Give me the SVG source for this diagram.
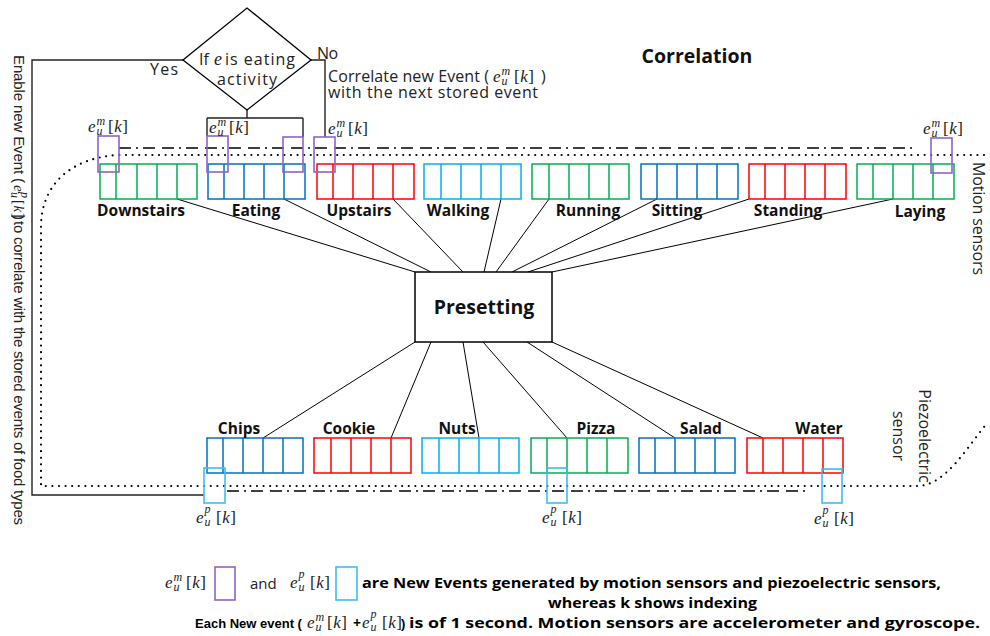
<svg xmlns="http://www.w3.org/2000/svg" width="990" height="636" viewBox="0 0 990 636">
<style>
.bx{fill:none;stroke-width:1.5}
.g{stroke:#00B050}.b{stroke:#0070C0}.r{stroke:#FF0000}.c{stroke:#00B0F0}
.pu{fill:none;stroke:#8E63C8;stroke-width:1.6}
.cy{fill:none;stroke:#3DBDF0;stroke-width:1.6}
.ln{fill:none;stroke:#000;stroke-width:1}
.ln2{fill:none;stroke:#222;stroke-width:1.4}
.dd{fill:none;stroke:#000;stroke-width:1.4;stroke-dasharray:12 5 2 5 12 7}
.dt{fill:none;stroke:#000;stroke-width:2.2;stroke-dasharray:0 6.6;stroke-linecap:round}
.lb{font-family:"Open Sans","Liberation Sans",sans-serif;font-weight:700;font-size:15.5px;fill:#111;text-anchor:middle}
.tx{font-family:"Open Sans","Liberation Sans",sans-serif;font-size:16px;fill:#222}
.vt{font-family:"Liberation Sans",sans-serif;font-size:15px;fill:#222}
.lg{font-family:"Open Sans","Liberation Sans",sans-serif;font-weight:700;font-size:14px;fill:#000}
.lgn{font-family:"Liberation Sans",sans-serif;font-weight:700;font-size:13px;fill:#000}
.mi{font-family:"Liberation Serif",serif;font-style:italic;font-size:17px;fill:#222;letter-spacing:0.5px}
.ms{font-size:12px}
.mu{font-style:normal}
</style>

<!-- sensor bands -->
<g id="bands">
<path class="dd" d="M119,148 H917"/>
<path class="dt" d="M984,155 H118 C70,158 42,185 41,225 V486 H917 C945,486 965,450 988,422"/>
<path class="dd" d="M227,491 H810"/>
</g>

<!-- connectors -->
<g id="connectors">
<path class="ln" d="M177,199 L415,272 M284,199 L431,272 M393,199 L463,272 M501,199 L484,272 M549,199 L496,272 M657,199 L512,272 M749,199 L528,272 M893,199 L552,272"/>
<path class="ln" d="M415,342 L263,438 M431,342 L391,438 M463,342 L479,438 M483,342 L567,438 M527,342 L675,438 M552,342 L763,438"/>
<path class="ln2" d="M183,60 H32 V495 H204"/>
<path class="ln2" d="M311,60 H325 V137"/>
<path class="ln2" d="M247,110 V118 M207,118 H303 M207,118 V136 M303,118 V137"/>
<text class="tx" x="150" y="75" textLength="28">Yes</text>
<text class="tx" x="317" y="59" textLength="21">No</text>
<text class="tx" x="328" y="82" textLength="161">Correlate new Event (</text>
<text class="mi" x="493" y="82">e<tspan class="ms" x="501.5" y="75">m</tspan><tspan class="ms" x="501.5" y="85">u</tspan><tspan class="mu" x="514" y="82">[</tspan>k<tspan class="mu">]</tspan></text>
<text class="tx" x="541" y="82">)</text>
<text class="tx" x="328" y="98" textLength="210">with the next stored event</text>
</g>

<!-- decision -->
<g id="decision">
<polygon points="247,8 311,60 247,110 183,60" fill="#fff" stroke="#000" stroke-width="1.3"/>
<text class="tx" x="199" y="65">If</text>
<text class="mi" x="214" y="65" style="font-size:18px">e</text>
<text class="tx" x="225" y="65" textLength="70">is eating</text>
<text class="tx" x="247" y="85" text-anchor="middle" textLength="60">activity</text>
</g>

<g id="title"><text class="lb" x="697" y="63" style="font-size:19.5px">Correlation</text></g>

<!-- motion sensor activities -->
<g id="downstairs"><rect class="bx g" x="100" y="164" width="97" height="35"/><path class="bx g" d="M116,164V199M137,164V199M157,164V199M177,164V199"/><text class="lb" x="141" y="216">Downstairs</text></g>
<g id="eating"><rect class="bx b" x="208" y="164" width="97" height="35"/><path class="bx b" d="M224,164V199M244,164V199M264,164V199M284,164V199"/><text class="lb" x="256" y="216">Eating</text></g>
<g id="upstairs"><rect class="bx r" x="317" y="164" width="97" height="35"/><path class="bx r" d="M333,164V199M353,164V199M373,164V199M393,164V199"/><text class="lb" x="359" y="216">Upstairs</text></g>
<g id="walking"><rect class="bx c" x="424" y="164" width="97" height="35"/><path class="bx c" d="M441,164V199M461,164V199M481,164V199M501,164V199"/><text class="lb" x="458" y="216">Walking</text></g>
<g id="running"><rect class="bx g" x="532" y="164" width="97" height="35"/><path class="bx g" d="M549,164V199M569,164V199M589,164V199M609,164V199"/><text class="lb" x="588" y="216">Running</text></g>
<g id="sitting"><rect class="bx b" x="641" y="164" width="97" height="35"/><path class="bx b" d="M657,164V199M677,164V199M697,164V199M717,164V199"/><text class="lb" x="677" y="216">Sitting</text></g>
<g id="standing"><rect class="bx r" x="749" y="164" width="97" height="35"/><path class="bx r" d="M765,164V199M785,164V199M805,164V199M825,164V199"/><text class="lb" x="788" y="216">Standing</text></g>
<g id="laying"><rect class="bx g" x="857" y="164" width="97" height="35"/><path class="bx g" d="M873,164V199M893,164V199M913,164V199M933,164V199"/><text class="lb" x="920" y="217">Laying</text></g>

<!-- new motion events -->
<g id="em-downstairs"><rect class="pu" x="98" y="136" width="21" height="36"/><text class="mi" x="88" y="132">e<tspan class="ms" x="96.5" y="125">m</tspan><tspan class="ms" x="96.5" y="135">u</tspan><tspan class="mu" x="108" y="132">[</tspan>k<tspan class="mu">]</tspan></text></g>
<g id="em-eating1"><rect class="pu" x="207" y="136" width="21" height="36"/><text class="mi" x="209" y="133">e<tspan class="ms" x="217.5" y="126">m</tspan><tspan class="ms" x="217.5" y="136">u</tspan><tspan class="mu" x="229" y="133">[</tspan>k<tspan class="mu">]</tspan></text></g>
<g id="em-eating2"><rect class="pu" x="283" y="137" width="20" height="35"/></g>
<g id="em-upstairs"><rect class="pu" x="314" y="137" width="21" height="35"/><text class="mi" x="328" y="134">e<tspan class="ms" x="336.5" y="127">m</tspan><tspan class="ms" x="336.5" y="137">u</tspan><tspan class="mu" x="348" y="134">[</tspan>k<tspan class="mu">]</tspan></text></g>
<g id="em-laying"><rect class="pu" x="931" y="138" width="21" height="35"/><text class="mi" x="923" y="134">e<tspan class="ms" x="931.5" y="127">m</tspan><tspan class="ms" x="931.5" y="137">u</tspan><tspan class="mu" x="943" y="134">[</tspan>k<tspan class="mu">]</tspan></text></g>

<g id="presetting"><rect x="415" y="272" width="137" height="70" fill="#fff" stroke="#000" stroke-width="1.5"/><text class="lb" x="484" y="314" style="font-size:19.5px">Presetting</text></g>

<!-- food types -->
<g id="chips"><rect class="bx b" x="207" y="438" width="96" height="35"/><path class="bx b" d="M223,438V473M243,438V473M263,438V473M283,438V473"/><text class="lb" x="239" y="434">Chips</text></g>
<g id="cookie"><rect class="bx r" x="314" y="438" width="97" height="35"/><path class="bx r" d="M331,438V473M351,438V473M371,438V473M391,438V473"/><text class="lb" x="349" y="434">Cookie</text></g>
<g id="nuts"><rect class="bx c" x="422" y="438" width="97" height="35"/><path class="bx c" d="M439,438V473M459,438V473M479,438V473M499,438V473"/><text class="lb" x="457" y="434">Nuts</text></g>
<g id="pizza"><rect class="bx g" x="531" y="438" width="97" height="35"/><path class="bx g" d="M547,438V473M567,438V473M587,438V473M607,438V473"/><text class="lb" x="596" y="434">Pizza</text></g>
<g id="salad"><rect class="bx b" x="639" y="438" width="96" height="35"/><path class="bx b" d="M655,438V473M675,438V473M695,438V473M715,438V473"/><text class="lb" x="701" y="434">Salad</text></g>
<g id="water"><rect class="bx r" x="747" y="438" width="96" height="35"/><path class="bx r" d="M763,438V473M783,438V473M803,438V473M823,438V473"/><text class="lb" x="819" y="434">Water</text></g>

<!-- new piezo events -->
<g id="ep-chips"><rect class="cy" x="204" y="468" width="21" height="35"/><text class="mi" x="196" y="523">e<tspan class="ms" x="204.5" y="513">p</tspan><tspan class="ms" x="204.5" y="526">u</tspan><tspan class="mu" x="216" y="523">[</tspan>k<tspan class="mu">]</tspan></text></g>
<g id="ep-pizza"><rect class="cy" x="547" y="468" width="20" height="35"/><text class="mi" x="542" y="523">e<tspan class="ms" x="550.5" y="513">p</tspan><tspan class="ms" x="550.5" y="526">u</tspan><tspan class="mu" x="562" y="523">[</tspan>k<tspan class="mu">]</tspan></text></g>
<g id="ep-water"><rect class="cy" x="822" y="469" width="20" height="34"/><text class="mi" x="814" y="524">e<tspan class="ms" x="822.5" y="514">p</tspan><tspan class="ms" x="822.5" y="527">u</tspan><tspan class="mu" x="834" y="524">[</tspan>k<tspan class="mu">]</tspan></text></g>

<!-- side captions -->
<g id="enable-caption" transform="translate(14,0) rotate(90)">
<text class="vt" x="55" y="0" textLength="128">Enable new Event (</text>
<text class="mi" x="185" y="0" style="font-size:15px">e<tspan class="ms" x="192" y="-7">p</tspan><tspan class="ms" x="192" y="3">u</tspan><tspan class="mu" x="200" y="0">[</tspan>k<tspan class="mu">]</tspan></text>
<text class="vt" x="215" y="0">)</text>
<text class="vt" x="221" y="0" textLength="304">to correlate with the stored events of food types</text>
</g>
<g id="motion-caption" transform="translate(973,162) rotate(90)"><text class="tx" x="0" y="0" textLength="113">Motion sensors</text></g>
<g id="piezo-caption" transform="translate(919,436) rotate(90)"><text class="tx" x="0" y="0" text-anchor="middle">Piezoelectric</text><text class="tx" x="0" y="26" text-anchor="middle">sensor</text></g>

<!-- legend -->
<g id="legend">
<text class="mi" x="165" y="588">e<tspan class="ms" x="173.5" y="581">m</tspan><tspan class="ms" x="173.5" y="591">u</tspan><tspan class="mu" x="186" y="588">[</tspan>k<tspan class="mu">]</tspan></text>
<rect class="pu" x="215" y="567" width="20" height="33"/>
<text class="tx" x="250" y="589" style="font-size:15px">and</text>
<text class="mi" x="290" y="588">e<tspan class="ms" x="298.5" y="578">p</tspan><tspan class="ms" x="298.5" y="591">u</tspan><tspan class="mu" x="310" y="588">[</tspan>k<tspan class="mu">]</tspan></text>
<rect class="cy" x="336" y="567" width="21" height="33"/>
<text class="lg" x="362" y="588" textLength="579" lengthAdjust="spacingAndGlyphs">are New Events generated by motion sensors and piezoelectric sensors,</text>
<text class="lg" x="548" y="608" textLength="209" lengthAdjust="spacingAndGlyphs">whereas k shows indexing</text>
<text class="lgn" x="195" y="628">Each New event (</text>
<text class="mi" x="307" y="628">e<tspan class="ms" x="315.5" y="621">m</tspan><tspan class="ms" x="315.5" y="631">u</tspan><tspan class="mu" x="327" y="628">[</tspan>k<tspan class="mu">]</tspan></text>
<text class="lg" x="353" y="628">+</text>
<text class="mi" x="362" y="628">e<tspan class="ms" x="370.5" y="618">p</tspan><tspan class="ms" x="370.5" y="631">u</tspan><tspan class="mu" x="382" y="628">[</tspan>k<tspan class="mu">]</tspan></text>
<text class="lgn" x="401" y="628">)</text>
<text class="lg" x="409" y="628" style="font-size:15px" textLength="571" lengthAdjust="spacingAndGlyphs">is of 1 second. Motion sensors are accelerometer and gyroscope.</text>
</g>
</svg>
